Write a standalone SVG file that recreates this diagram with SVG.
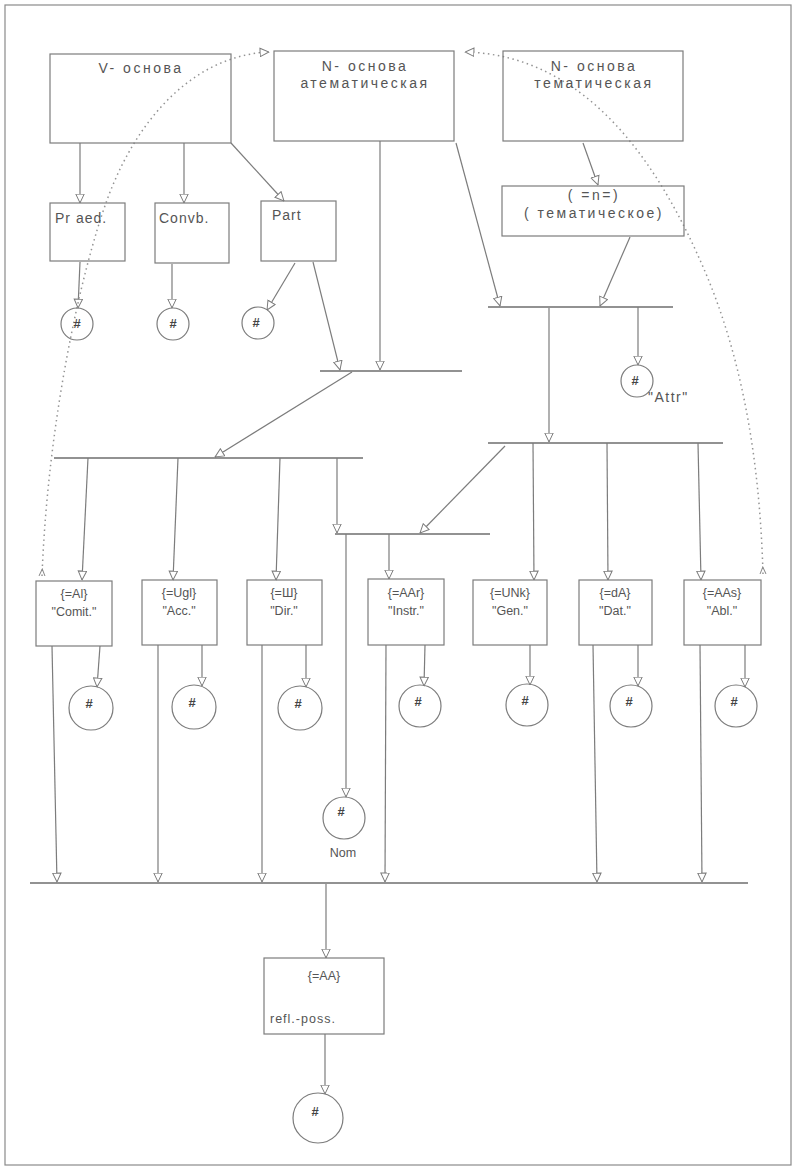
<svg xmlns="http://www.w3.org/2000/svg" width="796" height="1166" viewBox="0 0 796 1166">
<style>
.bx{fill:none;stroke:#7c7c7c;stroke-width:1.2}
.ci{fill:none;stroke:#7c7c7c;stroke-width:1.2}
.ln{fill:none;stroke:#7c7c7c;stroke-width:1.2}
.ar{fill:none;stroke:#7c7c7c;stroke-width:1.2;marker-end:url(#tri)}
.bar{fill:none;stroke:#6e6e6e;stroke-width:1.4}
.dot{fill:none;stroke:#939393;stroke-width:1.5;stroke-dasharray:1.5 3.5;marker-end:url(#tri);marker-start:url(#sm)}
.t{font-family:"Liberation Sans",Arial,sans-serif;font-size:14px;letter-spacing:2.5px;fill:#555}
.c{font-family:"Liberation Sans",Arial,sans-serif;font-size:12.5px;fill:#555}
.h{font-family:"Liberation Sans",Arial,sans-serif;font-size:13px;font-weight:bold;fill:#444}
</style>
<defs>
<marker id="tri" viewBox="0 0 10 10" refX="9.5" refY="5" markerWidth="10" markerHeight="10" markerUnits="userSpaceOnUse" orient="auto">
<path d="M0.6,0.8 L9.4,5 L0.6,9.2 Z" fill="#fff" stroke="#7c7c7c" stroke-width="1"/>
</marker>
<marker id="sm" viewBox="0 0 8 8" refX="0" refY="4" markerWidth="8" markerHeight="8" markerUnits="userSpaceOnUse" orient="auto">
<path d="M0,1 L7,4 L0,7" fill="none" stroke="#8a8a8a" stroke-width="1"/>
</marker>
</defs>
<rect x="5" y="5" width="786" height="1160" fill="#fff" stroke="#8a8a8a" stroke-width="1.2"/>

<g id="connectors">
<line class="ar" x1="80" y1="143" x2="80" y2="203"/>
<line class="ar" x1="184" y1="143" x2="184" y2="203"/>
<line class="ar" x1="231" y1="143" x2="284" y2="201"/>
<line class="ar" x1="80" y1="262" x2="78" y2="308"/>
<line class="ar" x1="172" y1="264" x2="172" y2="308"/>
<line class="ar" x1="295" y1="263" x2="267" y2="310"/>
<line class="ar" x1="313" y1="262" x2="340" y2="370"/>
<line class="ar" x1="380" y1="141" x2="380" y2="370"/>
<line class="bar" x1="320" y1="371" x2="462" y2="371"/>
<line class="ar" x1="352" y1="372" x2="215" y2="457"/>
<line class="bar" x1="54" y1="458" x2="363" y2="458"/>
<line class="ar" x1="88" y1="458" x2="82" y2="580"/>
<line class="ar" x1="178" y1="458" x2="173" y2="580"/>
<line class="ar" x1="280" y1="458" x2="276" y2="580"/>
<line class="ar" x1="337" y1="458" x2="337" y2="533"/>
<line class="bar" x1="335" y1="534" x2="490" y2="534"/>
<line class="ar" x1="346" y1="534" x2="346" y2="797"/>
<line class="ar" x1="389" y1="534" x2="389" y2="579"/>
<line class="ar" x1="456" y1="143" x2="500" y2="306"/>
<line class="ar" x1="583" y1="143" x2="598" y2="185"/>
<line class="ar" x1="630" y1="237" x2="600" y2="306"/>
<line class="bar" x1="488" y1="307" x2="673" y2="307"/>
<line class="ar" x1="638" y1="307" x2="638" y2="365"/>
<line class="ar" x1="549" y1="308" x2="549" y2="442"/>
<line class="bar" x1="488" y1="443" x2="723" y2="443"/>
<line class="ar" x1="505" y1="446" x2="420" y2="533"/>
<line class="ar" x1="533" y1="443" x2="534" y2="580"/>
<line class="ar" x1="607" y1="443" x2="608" y2="580"/>
<line class="ar" x1="698" y1="443" x2="701" y2="580"/>
<line class="ar" x1="100" y1="646" x2="97" y2="687"/>
<line class="ar" x1="202" y1="645" x2="202" y2="686"/>
<line class="ar" x1="306" y1="645" x2="306" y2="687"/>
<line class="ar" x1="425" y1="645" x2="424" y2="686"/>
<line class="ar" x1="530" y1="645" x2="530" y2="685"/>
<line class="ar" x1="638" y1="645" x2="638" y2="686"/>
<line class="ar" x1="745" y1="645" x2="745" y2="687"/>
<line class="ar" x1="52" y1="646" x2="57" y2="882"/>
<line class="ar" x1="158" y1="645" x2="158" y2="882"/>
<line class="ar" x1="262" y1="645" x2="262" y2="882"/>
<line class="ar" x1="386" y1="645" x2="385" y2="882"/>
<line class="ar" x1="593" y1="645" x2="597" y2="882"/>
<line class="ar" x1="700" y1="645" x2="702" y2="882"/>
<line class="bar" x1="30" y1="883" x2="748" y2="883"/>
<line class="ar" x1="326" y1="884" x2="326" y2="958"/>
<line class="ar" x1="325" y1="1034" x2="325" y2="1094"/>
<path class="dot" d="M42,576 C48,420 81,272 107,200 C140,110 200,55 269,52"/>
<path class="dot" d="M763,574 C760,470 745,360 700,260 C660,170 590,55 465,52"/>
</g>

<g id="v-osnova"><rect class="bx" x="50" y="54" width="181" height="89"/><text class="t" x="141" y="73" text-anchor="middle">V- основа</text></g>
<g id="n-atem"><rect class="bx" x="274" y="51" width="180" height="90"/><text class="t" x="365" y="71" text-anchor="middle">N- основа</text><text class="t" x="365" y="88" text-anchor="middle">атематическая</text></g>
<g id="n-tem"><rect class="bx" x="503" y="51" width="180" height="90"/><text class="t" x="594" y="71" text-anchor="middle">N- основа</text><text class="t" x="594" y="88" text-anchor="middle">тематическая</text></g>
<g id="n-infix"><rect class="bx" x="502" y="186" width="182" height="50"/><text class="t" x="594" y="200" text-anchor="middle">( =n=)</text><text class="t" x="594" y="218" text-anchor="middle">( тематическое)</text></g>

<g id="praed"><rect class="bx" x="50" y="203" width="75" height="58"/><text class="t" x="55" y="223" style="letter-spacing:1px">Pr aed.</text></g>
<g id="convb"><rect class="bx" x="155" y="203" width="74" height="60"/><text class="t" x="159" y="223" style="letter-spacing:1px">Convb.</text></g>
<g id="part"><rect class="bx" x="261" y="201" width="75" height="60"/><text class="t" x="272" y="220" style="letter-spacing:1px">Part</text></g>

<g id="c-praed"><circle class="ci" cx="77" cy="324" r="16"/><text class="h" x="77" y="328" text-anchor="middle">#</text></g>
<g id="c-convb"><circle class="ci" cx="173" cy="324" r="16"/><text class="h" x="173" y="328" text-anchor="middle">#</text></g>
<g id="c-part"><circle class="ci" cx="258" cy="323" r="16"/><text class="h" x="256" y="327" text-anchor="middle">#</text></g>
<g id="c-attr"><circle class="ci" cx="637" cy="381" r="16"/><text class="h" x="635" y="385" text-anchor="middle">#</text><text class="t" x="648" y="402" style="letter-spacing:1.5px">"Attr"</text></g>

<g id="comit"><rect class="bx" x="36" y="581" width="76" height="65"/><text class="c" x="74" y="598" text-anchor="middle">{=Al}</text><text class="c" x="74" y="616" text-anchor="middle">"Comit."</text></g>
<g id="acc"><rect class="bx" x="142" y="580" width="75" height="65"/><text class="c" x="179" y="597" text-anchor="middle">{=Ugl}</text><text class="c" x="179" y="615" text-anchor="middle">"Acc."</text></g>
<g id="dir"><rect class="bx" x="247" y="580" width="75" height="65"/><text class="c" x="284" y="597" text-anchor="middle">{=Ш}</text><text class="c" x="284" y="615" text-anchor="middle">"Dir."</text></g>
<g id="instr"><rect class="bx" x="368" y="579" width="76" height="66"/><text class="c" x="406" y="597" text-anchor="middle">{=AAr}</text><text class="c" x="406" y="615" text-anchor="middle">"Instr."</text></g>
<g id="gen"><rect class="bx" x="473" y="580" width="74" height="65"/><text class="c" x="510" y="597" text-anchor="middle">{=UNk}</text><text class="c" x="510" y="615" text-anchor="middle">"Gen."</text></g>
<g id="dat"><rect class="bx" x="579" y="580" width="73" height="65"/><text class="c" x="615" y="597" text-anchor="middle">{=dA}</text><text class="c" x="615" y="615" text-anchor="middle">"Dat."</text></g>
<g id="abl"><rect class="bx" x="684" y="580" width="77" height="65"/><text class="c" x="722" y="597" text-anchor="middle">{=AAs}</text><text class="c" x="722" y="615" text-anchor="middle">"Abl."</text></g>

<g id="c-comit"><circle class="ci" cx="91" cy="708" r="22"/><text class="h" x="89" y="708" text-anchor="middle">#</text></g>
<g id="c-acc"><circle class="ci" cx="194" cy="707" r="22"/><text class="h" x="192" y="707" text-anchor="middle">#</text></g>
<g id="c-dir"><circle class="ci" cx="300" cy="708" r="22"/><text class="h" x="298" y="708" text-anchor="middle">#</text></g>
<g id="c-instr"><circle class="ci" cx="420" cy="706" r="21"/><text class="h" x="418" y="706" text-anchor="middle">#</text></g>
<g id="c-gen"><circle class="ci" cx="527" cy="705" r="21"/><text class="h" x="525" y="705" text-anchor="middle">#</text></g>
<g id="c-dat"><circle class="ci" cx="631" cy="706" r="21"/><text class="h" x="629" y="706" text-anchor="middle">#</text></g>
<g id="c-abl"><circle class="ci" cx="736" cy="706" r="21"/><text class="h" x="734" y="706" text-anchor="middle">#</text></g>

<g id="nom"><circle class="ci" cx="344" cy="818" r="21"/><text class="h" x="341" y="816" text-anchor="middle">#</text><text class="c" x="343" y="857" text-anchor="middle">Nom</text></g>

<g id="refl-poss"><rect class="bx" x="264" y="958" width="120" height="76"/><text class="c" x="324" y="980" text-anchor="middle">{=AA}</text><text class="c" x="270" y="1023" style="letter-spacing:1px">refl.-poss.</text></g>
<g id="c-refl"><circle class="ci" cx="318" cy="1118" r="25"/><text class="h" x="315" y="1116" text-anchor="middle">#</text></g>
</svg>
